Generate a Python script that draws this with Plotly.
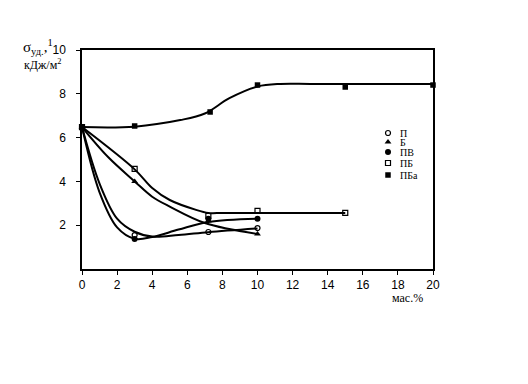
import plotly.graph_objects as go

# ---- data ----
x_P = [0, 3, 7.2, 10]
y_P = [6.48, 1.55, 1.69, 1.87]
x_B = [0, 3, 7.2, 10]
y_B = [6.48, 4.0, 2.2, 1.6]
x_PV = [0, 3, 7.2, 10]
y_PV = [6.48, 1.37, 2.3, 2.3]
x_PB = [0, 3, 7.2, 10, 15]
y_PB = [6.48, 4.57, 2.42, 2.65, 2.56]
x_PBa = [0, 3, 7.3, 10, 15, 20]
y_PBa = [6.48, 6.53, 7.17, 8.4, 8.31, 8.4]

# fitted curves as drawn in the picture
cx_P = [0, 1, 2, 3, 4, 5.5, 7.2, 10]
cy_P = [6.48, 3.9, 2.3, 1.7, 1.48, 1.55, 1.68, 1.85]
cx_B = [0, 1.5, 3, 4, 5, 7, 10]
cy_B = [6.48, 5.1, 4.0, 3.3, 2.85, 2.1, 1.6]
cx_PV = [0, 1, 2, 3, 4, 5.5, 7.2, 10]
cy_PV = [6.48, 3.5, 1.9, 1.38, 1.46, 1.8, 2.15, 2.3]
cx_PB = [0, 3, 4, 5, 6.5, 7.2, 8, 10, 12, 15]
cy_PB = [6.48, 4.55, 3.7, 3.15, 2.7, 2.56, 2.56, 2.56, 2.56, 2.56]
cx_PBa = [0, 3, 5.6, 7.0, 8.4, 10, 11.3, 13, 16, 20]
cy_PBa = [6.48, 6.5, 6.8, 7.1, 7.8, 8.33, 8.45, 8.45, 8.45, 8.45]

legend_labels = ["П", "Б", "ПВ", "ПБ", "ПБа"]
x_ticks = [0, 2, 4, 6, 8, 10, 12, 14, 16, 18, 20]
y_ticks = [2, 4, 6, 8, 10]

series = [
    (x_P, y_P, cx_P, cy_P, dict(symbol="circle-open", size=5, color="black", line=dict(width=1.2, color="black"))),
    (x_B, y_B, cx_B, cy_B, dict(symbol="triangle-up", size=6, color="black")),
    (x_PV, y_PV, cx_PV, cy_PV, dict(symbol="circle", size=6, color="black")),
    (x_PB, y_PB, cx_PB, cy_PB, dict(symbol="square-open", size=5, color="black", line=dict(width=1.2, color="black"))),
    (x_PBa, y_PBa, cx_PBa, cy_PBa, dict(symbol="square", size=5.5, color="black")),
]

fig = go.Figure()
for xs, ys, cx, cy, mk in series:
    fig.add_trace(go.Scatter(x=cx, y=cy, mode="lines",
                             line=dict(color="black", width=2, shape="spline", smoothing=1.0),
                             showlegend=False, hoverinfo="skip"))
for xs, ys, cx, cy, mk in series:
    fig.add_trace(go.Scatter(x=xs, y=ys, mode="markers", marker=mk,
                             showlegend=False, cliponaxis=False))

# plot area in screen pixels (page body adds an 8px offset)
OFF = 8
L, T, W, H = 82, 50, 351, 219
BOT = T + H
leg_rows = [133, 142, 152, 163, 175]
for (xs, ys, cx, cy, mk), lab, ry in zip(series, legend_labels, leg_rows):
    fig.add_trace(go.Scatter(x=[388], y=[ry], mode="markers", marker=mk,
                             xaxis="x2", yaxis="y2", showlegend=False, cliponaxis=False))
    fig.add_annotation(x=(398 - L) / W, y=(BOT - ry) / H, xref="paper", yref="paper",
                       text=lab, showarrow=False, xanchor="left", yanchor="middle",
                       font=dict(family="Liberation Serif", size=10, color="black"))

fig.update_layout(
    width=528 - OFF, height=384 - OFF,
    margin=dict(l=L - OFF, r=528 - L - W, t=T - OFF, b=384 - T - H, pad=0),
    paper_bgcolor="white", plot_bgcolor="white",
    xaxis=dict(range=[0, 20], tickvals=x_ticks, showline=True, mirror=True,
               linecolor="black", linewidth=1.5, ticks="outside", ticklen=4,
               tickcolor="black", showgrid=False, zeroline=False,
               tickfont=dict(family="Liberation Sans", size=12, color="black")),
    yaxis=dict(range=[0, 10], tickvals=y_ticks, showline=True, mirror=True,
               linecolor="black", linewidth=1.5, ticks="outside", ticklen=4,
               tickcolor="black", showgrid=False, zeroline=False,
               ticklabelstandoff=8,
               tickfont=dict(family="Liberation Sans", size=12, color="black")),
    xaxis2=dict(range=[L, L + W], overlaying="x", visible=False),
    yaxis2=dict(range=[BOT, T], overlaying="y", visible=False),
)

def px2paper(px, py):
    return (px - L) / W, (BOT - py) / H

ax, ay = px2paper(21, 47)
fig.add_annotation(x=ax, y=ay, xref="paper", yref="paper", showarrow=False,
                   xanchor="left", yanchor="middle",
                   text="σ<sub>уд.</sub>,<sup>1</sup>",
                   font=dict(family="Liberation Serif", size=15, color="black"))
ax, ay = px2paper(22, 64)
fig.add_annotation(x=ax, y=ay, xref="paper", yref="paper", showarrow=False,
                   xanchor="left", yanchor="middle",
                   text="кДж/м<sup>2</sup>",
                   font=dict(family="Liberation Serif", size=12, color="black"))
ax, ay = px2paper(390, 298)
fig.add_annotation(x=ax, y=ay, xref="paper", yref="paper", showarrow=False,
                   xanchor="left", yanchor="middle", text="мас.%",
                   font=dict(family="Liberation Serif", size=12, color="black"))

fig.write_html("out.html")
